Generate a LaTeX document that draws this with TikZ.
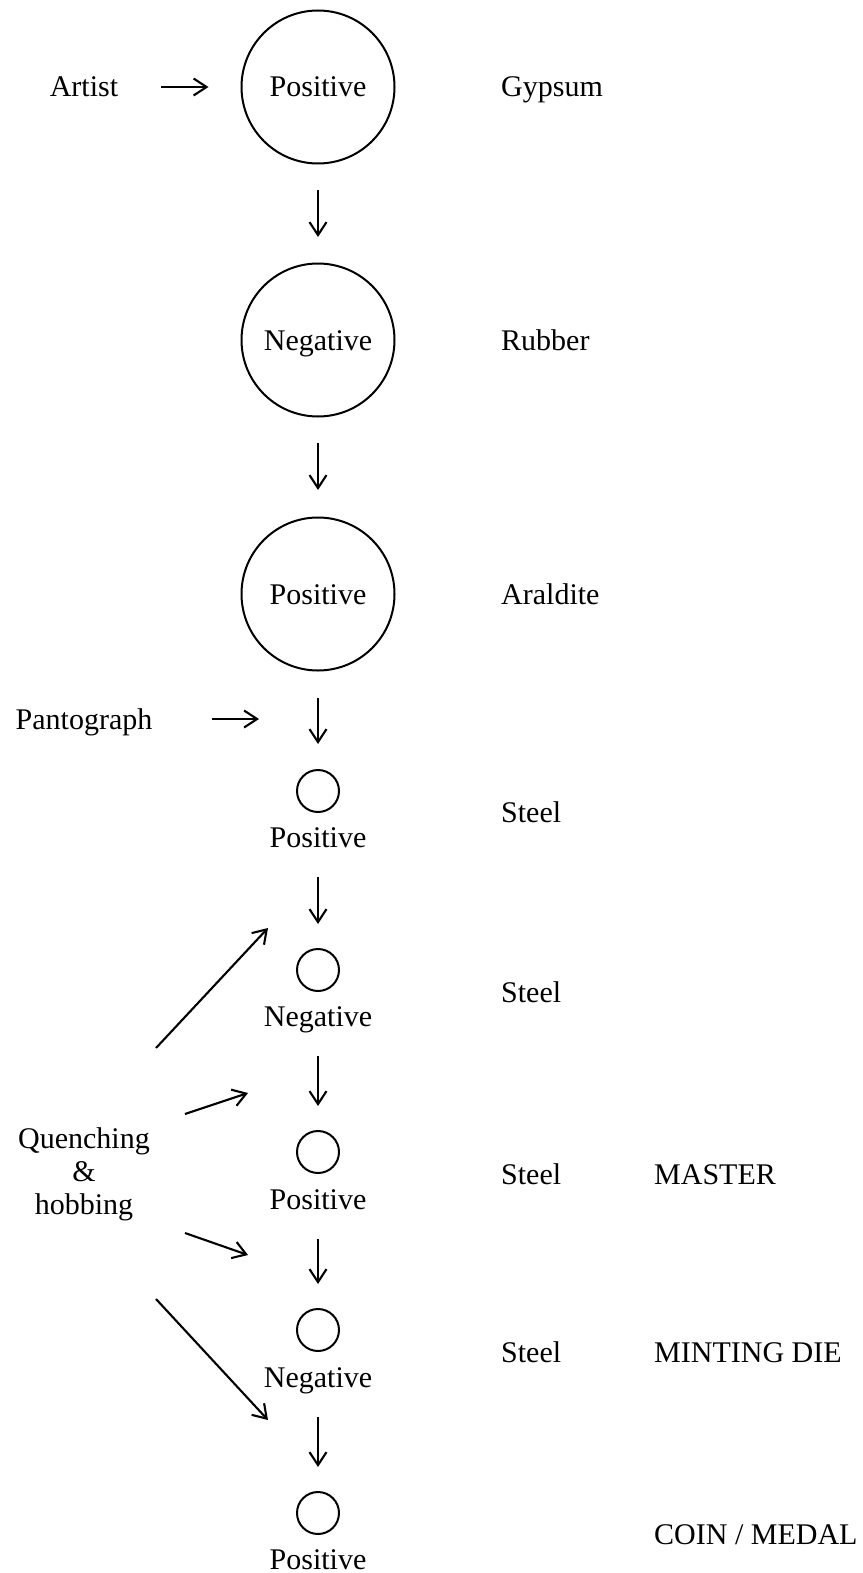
\documentclass[tikz,border=0pt]{standalone}
\usepackage{fontspec}
\setmainfont{Liberation Serif}
\usetikzlibrary{arrows.meta}
\begin{document}
\begin{tikzpicture}[x=1pt,y=-1pt,
  txt/.style={inner sep=0pt, text height=20pt, text depth=0pt, font=\fontsize{30}{33}\selectfont},
  bigc/.style={draw, circle, line width=2pt, minimum size=153pt, inner sep=0pt, text height=20pt, text depth=0pt, font=\fontsize{30}{33}\selectfont},
  smallc/.style={draw, circle, line width=2pt, minimum size=42pt, inner sep=0pt},
  arr/.style={line width=2.1pt, -{Straight Barb[length=13pt,width=17pt,line width=2.1pt]}}]
\useasboundingbox (0,0) rectangle (862,1573);
% main column
\node[bigc] (c1) at (318,87) {Positive};
\node[bigc] (c2) at (318,340) {Negative};
\node[bigc] (c3) at (318,594) {Positive};
\node[smallc] (s1) at (318,791) {};
\node[txt] (p1) at (318,837) {Positive};
\node[smallc] (s2) at (318,970) {};
\node[txt] (n2) at (318,1016) {Negative};
\node[smallc] (s3) at (318,1152) {};
\node[txt] (p3) at (318,1199) {Positive};
\node[smallc] (s4) at (318,1330) {};
\node[txt] (n4) at (318,1377) {Negative};
\node[smallc] (s5) at (318,1513) {};
\node[txt] (p5) at (318,1559) {Positive};
% left labels
\node[txt] (artist) at (84,87) {Artist};
\node[txt] (panto) at (84,719) {Pantograph};
\node[inner sep=0pt, align=center, font=\fontsize{30}{33}\selectfont] (quench) at (84,1174) {Quenching\\\&\\hobbing};
% right labels
\node[txt, anchor=west] (gyp) at (501,87) {Gypsum};
\node[txt, anchor=west] (rub) at (501,340) {Rubber};
\node[txt, anchor=west] (ara) at (501,594) {Araldite};
\node[txt, anchor=west] (st1) at (501,812) {Steel};
\node[txt, anchor=west] (st2) at (501,992) {Steel};
\node[txt, anchor=west] (st3) at (501,1174) {Steel};
\node[txt, anchor=west] (st4) at (501,1352) {Steel};
\node[txt, anchor=west] (master) at (654,1174) {MASTER};
\node[txt, anchor=west] (mint) at (654,1352) {MINTING DIE};
\node[txt, anchor=west] (coin) at (654,1534) {COIN / MEDAL};
% vertical arrows
\draw[arr, shorten <=103pt, shorten >=103pt] (c1.center) -- (c2.center);
\draw[arr, shorten <=103pt, shorten >=104pt] (c2.center) -- (c3.center);
\draw[arr, shorten <=104pt, shorten >=47pt] (c3.center) -- (s1.center);
\draw[arr, shorten <=40pt, shorten >=46pt] (p1.center) -- (s2.center);
\draw[arr, shorten <=40pt, shorten >=46pt] (n2.center) -- (s3.center);
\draw[arr, shorten <=40pt, shorten >=46pt] (p3.center) -- (s4.center);
\draw[arr, shorten <=40pt, shorten >=46pt] (n4.center) -- (s5.center);
% horizontal arrows
\draw[arr, shorten <=43pt, shorten >=32pt] (artist.east) -- (c1.west);
\coordinate (m3) at (318,719);
\draw[arr, shorten <=59pt, shorten >=59pt] (panto.east) -- (m3);
% quenching arrows
\coordinate (qa) at (156,1048);
\coordinate (ta) at (268,928);
\coordinate (qb) at (185,1114);
\coordinate (tb) at (248,1093);
\coordinate (qc) at (185,1233);
\coordinate (tc) at (248,1255);
\coordinate (qd) at (156,1299);
\coordinate (td) at (268,1420);
\draw[arr] (qa) -- (ta);
\draw[arr] (qb) -- (tb);
\draw[arr] (qc) -- (tc);
\draw[arr] (qd) -- (td);
\end{tikzpicture}
\end{document}
